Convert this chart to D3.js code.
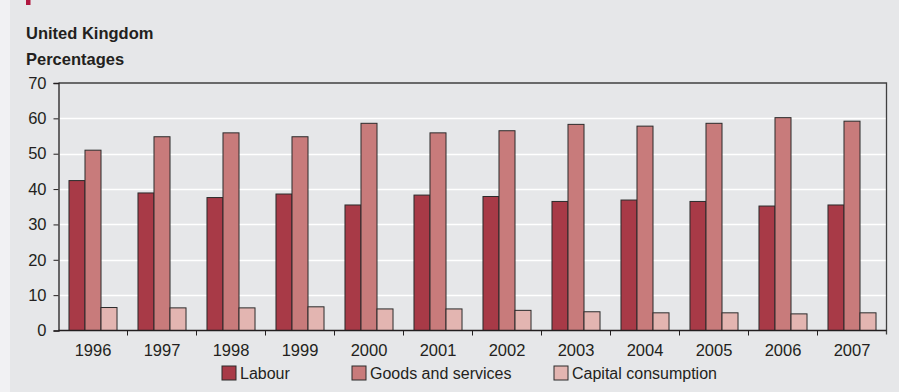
<!DOCTYPE html>
<html>
<head>
<meta charset="utf-8">
<script src="https://cdn.jsdelivr.net/npm/d3@7"></script>
<style>
  html, body { margin: 0; padding: 0; background: #f1f1f3; }
  svg { display: block; }
  text { font-family: "Liberation Sans", Arial, sans-serif; fill: #231f20; }
</style>
</head>
<body>
<svg id="chart" width="899" height="392"></svg>
<script>
// Shares of costs, United Kingdom, 1996–2007 (percentages)
const years = ["1996","1997","1998","1999","2000","2001","2002","2003","2004","2005","2006","2007"];
const labour = [42.4, 38.9, 37.6, 38.6, 35.5, 38.3, 37.9, 36.5, 36.9, 36.5, 35.2, 35.5];
const goodsServices = [51.0, 54.8, 55.9, 54.8, 58.6, 55.9, 56.5, 58.3, 57.8, 58.6, 60.2, 59.2];
const capitalConsumption = [6.5, 6.4, 6.4, 6.7, 6.1, 6.1, 5.7, 5.3, 5.0, 5.0, 4.7, 5.0];
const seriesNames = ["Labour", "Goods and services", "Capital consumption"];
const seriesColors = ["#a83a47", "#c87b7b", "#e3b5b1"];
const yTicks = [0, 10, 20, 30, 40, 50, 60, 70];

const series = [labour, goodsServices, capitalConsumption];

const svg = d3.select("#chart");
const W = 899, H = 392;
const m = { left: 58.5, right: 886.5, top: 83, bottom: 330.5 };

// panel background
svg.append("rect").attr("x", 10).attr("y", 0).attr("width", W - 10).attr("height", H).attr("fill", "#e6e7e9");
// small accent mark
svg.append("rect").attr("x", 26).attr("y", 0).attr("width", 4.5).attr("height", 5).attr("fill", "#b0173f");

svg.append("text").attr("x", 26).attr("y", 39).attr("font-size", 16.5).attr("font-weight", "bold").text("United Kingdom");
svg.append("text").attr("x", 26).attr("y", 65).attr("font-size", 16.5).attr("font-weight", "bold").text("Percentages");

const x = d3.scaleBand().domain(years).range([m.left, m.right]).paddingInner(0.304).paddingOuter(0.152);
const xInner = d3.scaleBand().domain(d3.range(series.length)).range([0, x.bandwidth()]);
const y = d3.scaleLinear().domain([0, 70]).range([m.bottom, m.top]);

// gridlines
svg.append("g").selectAll("line").data(yTicks.filter(t => t > 0 && t < 70)).join("line")
  .attr("x1", m.left).attr("x2", m.right)
  .attr("y1", d => Math.round(y(d)) + 0.5).attr("y2", d => Math.round(y(d)) + 0.5)
  .attr("stroke", "#ffffff").attr("stroke-width", 1.5);

// frame (top and right)
svg.append("path")
  .attr("d", `M${m.left},${m.top}H${m.right}V${m.bottom + 4}`)
  .attr("fill", "none").attr("stroke", "#404040").attr("stroke-width", 1.3);

// bars
const groups = svg.append("g").selectAll("g").data(years).join("g")
  .attr("transform", d => `translate(${x(d)},0)`);
groups.selectAll("rect").data((d, i) => series.map((s, k) => ({ k, v: s[i] }))).join("rect")
  .attr("x", d => xInner(d.k))
  .attr("width", xInner.bandwidth())
  .attr("y", d => y(d.v))
  .attr("height", d => y(0) - y(d.v))
  .attr("fill", d => seriesColors[d.k])
  .attr("stroke", "#2b2b2b").attr("stroke-width", 1);

// y axis
const yAxis = svg.append("g").attr("transform", `translate(${m.left},0)`)
  .call(d3.axisLeft(y).tickValues(yTicks).tickSize(5).tickPadding(7));
yAxis.select(".domain").attr("stroke", "#231f20").attr("stroke-width", 1.3);
yAxis.selectAll(".tick line").attr("stroke", "#231f20");
yAxis.selectAll(".tick text").attr("font-size", 16.5).attr("font-family", "Liberation Sans, Arial, sans-serif").attr("fill", "#231f20");

// x axis: ticks at category boundaries
const xAxisG = svg.append("g").attr("transform", `translate(0,${m.bottom})`);
xAxisG.append("line").attr("x1", m.left).attr("x2", m.right).attr("stroke", "#231f20").attr("stroke-width", 1.3);
const step = x.step();
const bounds = d3.range(1, years.length).map(i => m.left + i * step);
xAxisG.selectAll("line.tk").data(bounds).join("line").attr("class", "tk")
  .attr("x1", d => d).attr("x2", d => d).attr("y1", 0).attr("y2", 5)
  .attr("stroke", "#231f20");
xAxisG.selectAll("text").data(years).join("text")
  .attr("x", d => x(d) + x.bandwidth() / 2)
  .attr("y", 25)
  .attr("text-anchor", "middle").attr("font-size", 16.5)
  .text(d => d);

// legend
const legendX = [222, 352, 554];
const legend = svg.append("g").selectAll("g").data(seriesNames).join("g")
  .attr("transform", (d, i) => `translate(${legendX[i]},366)`);
legend.append("rect").attr("width", 14).attr("height", 14)
  .attr("fill", (d, i) => seriesColors[i]).attr("stroke", "#2b2b2b").attr("stroke-width", 1);
legend.append("text").attr("x", 18).attr("y", 12.5).attr("font-size", 16).text(d => d);
</script>
</body>
</html>
